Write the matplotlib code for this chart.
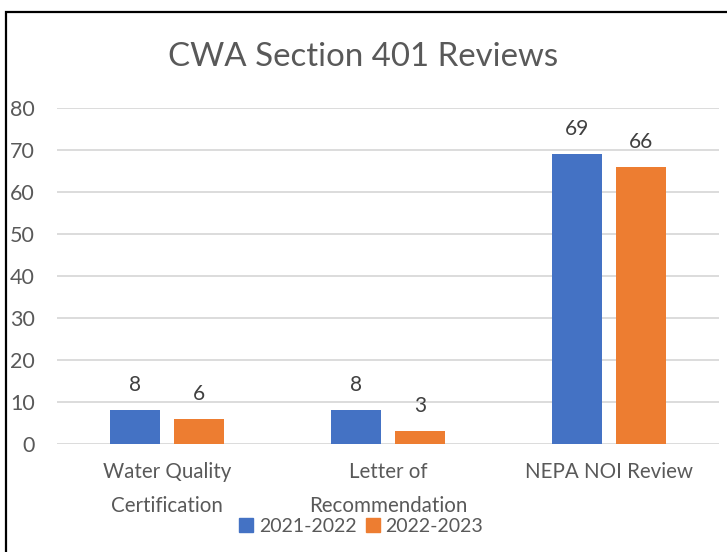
import matplotlib
matplotlib.use("Agg")
import matplotlib.pyplot as plt
from matplotlib.patches import Rectangle, Patch

categories = ["Water Quality\nCertification", "Letter of\nRecommendation", "NEPA NOI Review"]
series_names = ["2021-2022", "2022-2023"]
values_2021 = [8, 8, 69]
values_2022 = [6, 3, 66]
colors = ["#4472C4", "#ED7D31"]
title = "CWA Section 401 Reviews"
yticks = [0, 10, 20, 30, 40, 50, 60, 70, 80]

plt.rcParams['font.family'] = ['Lato', 'DejaVu Sans']
txt = "#595959"

fig = plt.figure(figsize=(7.27, 5.52), dpi=100)
ax = fig.add_axes([57/727, 1-444/552, 662/727, 336/552])

x = list(range(len(categories)))
w = 0.226
off = 0.145
b1 = ax.bar([i - off for i in x], values_2021, width=w, color=colors[0], zorder=3)
b2 = ax.bar([i + off for i in x], values_2022, width=w, color=colors[1], zorder=3)
for bars in (b1, b2):
    for r in bars:
        ax.annotate(f"{int(r.get_height())}", (r.get_x() + r.get_width()/2, r.get_height()),
                    xytext=(0, 11), textcoords="offset points", ha="center", va="bottom",
                    fontsize=15, color="#404040")

ax.set_xlim(-0.5, 2.5)
ax.set_ylim(0, 80)
ax.set_yticks(yticks)
ax.set_xticks(x)
ax.set_xticklabels(categories, fontsize=14.8, color=txt, linespacing=1.9)
ax.tick_params(axis='x', length=0, pad=13)
ax.tick_params(axis='y', length=0, pad=16, labelsize=15.5, labelcolor=txt)
ax.yaxis.grid(True, color="#D9D9D9", linewidth=1.3, zorder=0)
for s in ax.spines.values():
    s.set_visible(False)

fig.text(0.5, 1-57/552, title, ha="center", va="center", fontsize=23.8, color=txt)

handles = [Patch(color=c, label=n) for c, n in zip(colors, series_names)]
fig.legend(handles=handles, loc="center", bbox_to_anchor=(0.497, 1-526/552), ncol=2,
           frameon=False, fontsize=14, labelcolor=txt, handlelength=0.7, handleheight=0.7,
           handletextpad=0.3, columnspacing=0.5, borderpad=0)

fig.add_artist(Rectangle((6/727, -0.1), 1.2, 1.1 - 12/552, transform=fig.transFigure,
                         fill=False, edgecolor="black", linewidth=1.6, clip_on=False))

fig.savefig("out.png", dpi=100)
